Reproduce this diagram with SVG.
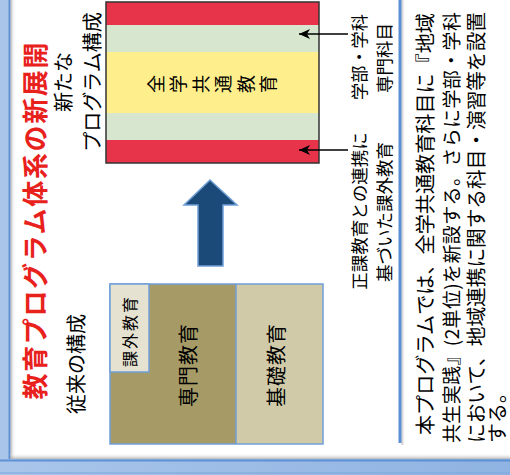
<svg xmlns="http://www.w3.org/2000/svg" width="510" height="475" viewBox="0 0 510 475">
<style>
text{font-family:"Noto Sans CJK JP","Noto Sans CJK SC",sans-serif;fill:#000}
.c{text-anchor:middle;dominant-baseline:central}
.s{text-anchor:start;dominant-baseline:central}
.title{fill:#e8211d;font-weight:bold;font-size:26px}
.hd{font-size:20px}
.lb{font-size:17.5px}
.ds{font-size:20px}
.blk{stroke:#6f9fd8;stroke-width:1.5}
.conn{stroke:#000;stroke-width:1.5;fill:none}
</style>
<defs>
<linearGradient id="shL" x1="0" x2="1" y1="0" y2="0"><stop offset="0" stop-color="#7d7d7d" stop-opacity=".55"/><stop offset="1" stop-color="#ffffff" stop-opacity="0"/></linearGradient>
<linearGradient id="shB" x1="0" x2="0" y1="1" y2="0"><stop offset="0" stop-color="#7d7d7d" stop-opacity=".55"/><stop offset="1" stop-color="#ffffff" stop-opacity="0"/></linearGradient>
<linearGradient id="blueB" x1="0" x2="1" y1="0" y2="0"><stop offset="0" stop-color="#a9c5ea"/><stop offset="1" stop-color="#8fb3e2"/></linearGradient>
<marker id="ah" viewBox="0 0 12 10" refX="11" refY="5" markerWidth="12" markerHeight="10" markerUnits="userSpaceOnUse" orient="auto"><path d="M0,0 L11,5 L0,10 L3,5 z" fill="#000"/></marker>
</defs>
<rect width="510" height="475" fill="#fff"/>
<g id="frame">
<rect x="0" y="0" width="10" height="475" fill="#a9c5ea"/>
<line x1="9.5" y1="0" x2="9.5" y2="461" stroke="#5e92d4" stroke-width="2"/>
<rect x="10.5" y="0" width="5" height="458" fill="url(#shL)"/>
<rect x="10" y="453" width="500" height="6" fill="url(#shB)"/>
<rect x="0" y="459" width="510" height="16" fill="url(#blueB)"/>
<line x1="0" y1="460.5" x2="510" y2="460.5" stroke="#5e92d4" stroke-width="2"/>
<line x1="0" y1="473" x2="510" y2="473" stroke="#7aa6dc" stroke-width="1"/>
<rect x="401.5" y="0" width="4" height="445" fill="url(#shL)"/>
<line x1="400" y1="0" x2="400" y2="443" stroke="#5b8fd3" stroke-width="3"/>
</g>
<g id="title">
<text class="c title" transform="translate(33,221) rotate(-90)" textLength="357" lengthAdjust="spacing">教育プログラム体系の新展開</text>
</g>
<g id="new-heading">
<text class="c hd" transform="translate(62,82) rotate(-90)">新たな</text>
<text class="c hd" transform="translate(91,82) rotate(-90)">プログラム構成</text>
</g>
<g id="new-structure">
<rect x="106" y="2" width="213" height="23" fill="#e8344b"/>
<rect x="106" y="25" width="213" height="27" fill="#d7e7cf"/>
<rect x="106" y="52" width="213" height="61" fill="#ffee8c"/>
<rect x="106" y="113" width="213" height="27" fill="#d7e7cf"/>
<rect x="106" y="140" width="213" height="23" fill="#e8344b"/>
<rect x="106" y="2" width="213" height="161" fill="none" stroke="#333" stroke-width="1.5"/>
<text x="162.8" y="93" rotate="-90" style="font-size:18px;letter-spacing:4.5px">全学共通教育</text>
</g>
<g id="label-senmon">
<text class="c lb" transform="translate(358,57) rotate(-90)" textLength="86" lengthAdjust="spacingAndGlyphs">学部・学科</text>
<text class="c lb" transform="translate(383,58) rotate(-90)">専門科目</text>
</g>
<g id="label-kagai">
<text class="c lb" transform="translate(358,211) rotate(-90)">正課教育との連携に</text>
<text class="c lb" transform="translate(383,212) rotate(-90)">基づいた課外教育</text>
</g>
<g id="connectors">
<line class="conn" x1="348" y1="34" x2="299" y2="34" marker-end="url(#ah)"/>
<line class="conn" x1="348" y1="150" x2="299" y2="150" marker-end="url(#ah)"/>
</g>
<g id="big-arrow">
<polygon points="210,180 237,205 223,205 223,266 198,266 198,205 184,205" fill="#1c4a78" stroke="#6f9fd8" stroke-width="1.5"/>
</g>
<g id="old-heading">
<text class="c hd" transform="translate(75,364) rotate(-90)">従来の構成</text>
</g>
<g id="old-structure">
<rect x="110" y="284" width="126" height="160" fill="#a69b67"/>
<rect x="236" y="284" width="87" height="160" fill="#d1caa9"/>
<line x1="236" y1="284" x2="236" y2="444" class="blk"/>
<rect x="110" y="284" width="213" height="160" fill="none" class="blk"/>
<rect x="110" y="284" width="39" height="88" fill="#e6e2d2" class="blk"/>
<text class="c" style="font-size:16px;letter-spacing:2px" transform="translate(129,331) rotate(-90)">課外教育</text>
<text class="c" style="font-size:20px;letter-spacing:1px" transform="translate(187,365) rotate(-90)">専門教育</text>
<text class="c" style="font-size:20px;letter-spacing:1px" transform="translate(275,365) rotate(-90)">基礎教育</text>
</g>
<g id="description">
<text class="s ds" transform="translate(424,435) rotate(-90)" textLength="422" lengthAdjust="spacingAndGlyphs">本プログラムでは、全学共通教育科目に『地域</text>
<text class="s" style="font-size:19px" transform="translate(450,443) rotate(-90)" textLength="431" lengthAdjust="spacing">共生実践』(2単位)を新設する。さらに学部・学科</text>
<text class="s ds" transform="translate(475,443) rotate(-90)" textLength="431" lengthAdjust="spacingAndGlyphs">において、地域連携に関する科目・演習等を設置</text>
<text class="s ds" transform="translate(496,443) rotate(-90)">する。</text>
</g>
</svg>
